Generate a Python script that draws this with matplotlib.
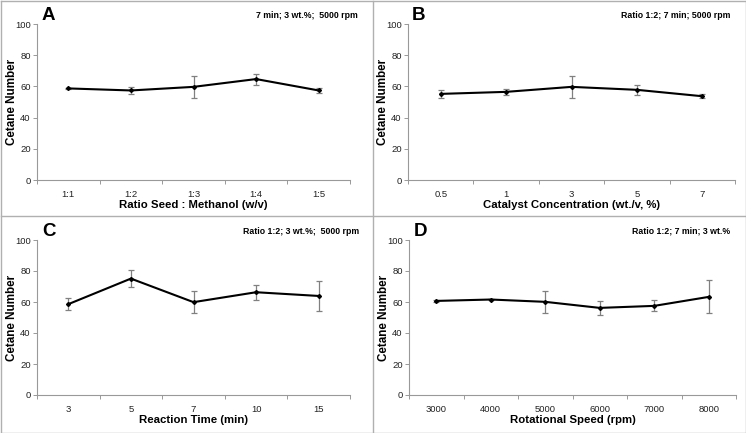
import numpy as np
import matplotlib
matplotlib.use("Agg")
import matplotlib.pyplot as plt
from matplotlib.lines import Line2D

plt.rcParams['font.family'] = ['Liberation Sans', 'DejaVu Sans']

# panel A
ratio_labels = ["1:1", "1:2", "1:3", "1:4", "1:5"]
ratio_cn = [58.7, 57.4, 59.7, 64.7, 57.4]
ratio_err = [0.4, 2.1, 7.2, 3.5, 1.4]

# panel B
cat_labels = ["0.5", "1", "3", "5", "7"]
cat_cn = [55.2, 56.5, 59.7, 57.8, 53.7]
cat_err = [2.7, 1.7, 7.2, 3.4, 1.4]

# panel C
time_labels = ["3", "5", "7", "10", "15"]
time_cn = [58.6, 75.1, 59.9, 66.3, 63.9]
time_err = [4.0, 5.7, 7.2, 4.9, 9.4]

# panel D
speed_labels = ["3000", "4000", "5000", "6000", "7000", "8000"]
speed_cn = [60.7, 61.6, 60.1, 56.2, 57.5, 63.3]
speed_err = [0.4, 0.4, 7.2, 4.4, 3.6, 10.7]

W, H = 746, 433
fig = plt.figure(figsize=(W / 100, H / 100), dpi=100)


def px_axes(left, top, right, bottom):
    ax = fig.add_axes([left / W, 1 - bottom / H, (right - left) / W, (bottom - top) / H])
    # y label sits about 19 px left of the axis line
    ax.yaxis.set_label_coords(-19.0 / (right - left), 0.5)
    return ax


def ftext(x, y, s, **kw):
    fig.text(x / W, 1 - y / H, s, fontweight='bold', **kw)


def panel(ax, labels, vals, errs, xlabel, cut=0.0):
    x = np.arange(len(labels))
    ax.errorbar(x, vals, yerr=errs, fmt='none', ecolor='#808080', elinewidth=0.9,
                capsize=2.2, capthick=0.9, zorder=2)
    ax.plot(x, vals, color='black', lw=1.5, marker='D', ms=2.0, zorder=3)
    ax.set_xlim(-0.5, len(labels) - 0.5 - cut)
    ax.set_ylim(0, 100)
    ax.set_yticks(range(0, 101, 20))
    ax.set_xticks(x)
    ax.set_xticklabels(labels)
    ax.set_xticks(np.arange(len(labels) + 1) - 0.5, minor=True)
    ax.tick_params(axis='x', which='major', length=0, labelsize=6.8, pad=7, colors='#222222')
    ax.tick_params(axis='x', which='minor', length=3, width=0.7, color='#999999')
    ax.tick_params(axis='y', length=3, width=0.7, color='#999999', labelsize=6.8, pad=1.5,
                   labelcolor='#222222')
    for s in ['top', 'right']:
        ax.spines[s].set_visible(False)
    for s in ['left', 'bottom']:
        ax.spines[s].set_color('#999999')
        ax.spines[s].set_linewidth(0.8)
    ax.set_xlabel(xlabel, fontsize=8.2, fontweight='bold', labelpad=1)
    ax.set_ylabel("Cetane Number", fontsize=8.4, fontweight='bold')
    return ax


axA = px_axes(37, 24, 350, 180)
panel(axA, ratio_labels, ratio_cn, ratio_err, "Ratio Seed : Methanol (w/v)", cut=0.22)
ftext(42, 16, "A", fontsize=13.5, ha='left', va='center')
ftext(358, 15, "7 min; 3 wt.%;  5000 rpm", fontsize=6.3, ha='right', va='center')

axB = px_axes(408, 24, 735, 180)
panel(axB, cat_labels, cat_cn, cat_err, "Catalyst Concentration (wt./v, %)")
ftext(412, 16, "B", fontsize=13.5, ha='left', va='center')
ftext(730, 15, "Ratio 1:2; 7 min; 5000 rpm", fontsize=6.3, ha='right', va='center')

axC = px_axes(37, 240, 350, 395)
panel(axC, time_labels, time_cn, time_err, "Reaction Time (min)", cut=0.22)
ftext(42, 231, "C", fontsize=13.5, ha='left', va='center')
ftext(359, 231, "Ratio 1:2; 3 wt.%;  5000 rpm", fontsize=6.3, ha='right', va='center')

axD = px_axes(409, 240, 736, 395)
panel(axD, speed_labels, speed_cn, speed_err, "Rotational Speed (rpm)")
ftext(414, 231, "D", fontsize=13.5, ha='left', va='center')
ftext(730, 231, "Ratio 1:2; 7 min; 3 wt.%", fontsize=6.3, ha='right', va='center')

# panel frames
gray = '#b0b0b0'
for xs, ys in [([0.5, 745.5], [0.5, 0.5]), ([0.5, 745.5], [432.5, 432.5]),
               ([0.5, 0.5], [0.5, 432.5]), ([745.5, 745.5], [0.5, 432.5]),
               ([372.5, 372.5], [0.5, 432.5]), ([0.5, 745.5], [216, 216])]:
    fig.add_artist(Line2D([x / W for x in xs], [1 - y / H for y in ys], color=gray, lw=1.0))

fig.savefig("out.png", dpi=100)
